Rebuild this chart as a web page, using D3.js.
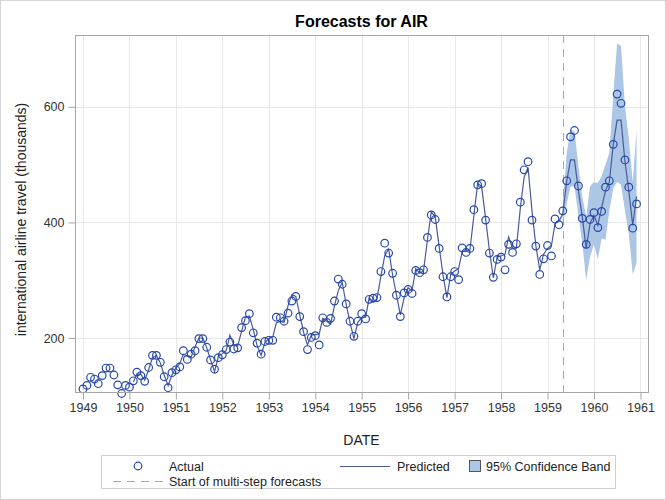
<!DOCTYPE html>
<html>
<head>
<meta charset="utf-8">
<script src="https://cdn.jsdelivr.net/npm/d3@7"></script>
<style>
  body { margin: 0; background: #fff; }
  svg { display: block; font-family: "Liberation Sans", Arial, sans-serif; }
</style>
</head>
<body>
<svg id="chart" width="666" height="500"></svg>
<script>
// monthly series, January 1949 .. December 1960
var startYear = 1949
var actual = [
  112, 118, 132, 129, 121, 135, 148, 148, 136, 119, 104, 118,
  115, 126, 141, 135, 125, 149, 170, 170, 158, 133, 114, 140,
  145, 150, 178, 163, 172, 178, 199, 199, 184, 162, 146, 166,
  171, 180, 193, 181, 183, 218, 230, 242, 209, 191, 172, 194,
  196, 196, 236, 235, 229, 243, 264, 272, 237, 211, 180, 201,
  204, 188, 235, 227, 234, 264, 302, 293, 259, 229, 203, 229,
  242, 233, 267, 269, 270, 315, 364, 347, 312, 274, 237, 278,
  284, 277, 317, 313, 318, 374, 413, 405, 355, 306, 271, 306,
  315, 301, 356, 348, 355, 422, 465, 467, 404, 347, 305, 336,
  340, 318, 362, 348, 363, 435, 491, 505, 404, 359, 310, 337,
  360, 342, 406, 396, 420, 472, 548, 559, 463, 407, 362, 405,
  417, 391, 419, 461, 472, 535, 622, 606, 508, 461, 390, 432
]
var predicted = [
  null, null, null, null, null, null, null, null, null, null, null, null,
  null, 124, 138, 137, 127, 145, 166, 170, 157, 136, 118, 136,
  148, 156, 172, 169, 167, 185, 200, 200, 183, 162, 142, 168,
  173, 178, 205, 188, 186, 212, 236, 238, 214, 187, 170, 192,
  199, 202, 226, 229, 227, 256, 275, 272, 240, 210, 188, 205,
  206, 207, 234, 229, 224, 256, 282, 296, 258, 227, 199, 227,
  235, 236, 270, 262, 268, 307, 342, 354, 309, 275, 240, 270,
  287, 282, 320, 312, 316, 370, 418, 410, 358, 310, 270, 310,
  316, 320, 350, 350, 352, 412, 468, 462, 407, 352, 304, 340,
  342, 345, 375, 356, 355, 424, 478, 495, 420, 360, 318, 345,
  355, 360, 398, 402, 415, 472, 508, 508, 455, 410, 355, 398,
  412, 395, 425, 455, 470, 535, 577, 577, 505, 455, 395, 445
]
// 95% band, May 1959 .. December 1960
var bandStart = 124
var upper = [432, 520, 560, 558, 497, 445, 410, 462, 470, 468, 480, 500, 520, 620, 710, 705, 600, 545, 470, 560]
var lower = [398, 432, 462, 462, 412, 364, 300, 340, 362, 336, 372, 370, 420, 460, 470, 465, 420, 380, 310, 330]
var forecastStart = 124
var yTicks = [200, 400, 600]
var xTicks = d3.range(1949, 1962)

var svg = d3.select('#chart')
var frame = { left: 75, right: 648, top: 35, bottom: 392 }

function dateOf(i) { return new Date(startYear, i, 1) }

var x = d3.scaleTime()
  .domain([new Date(1948, 9, 30), new Date(1961, 1, 29)])
  .range([frame.left, frame.right])
var y = d3.scaleLinear()
  .domain([106.6, 724.2])
  .range([frame.bottom, frame.top])

// outer border
svg.append('rect')
  .attr('x', 0.5).attr('y', 0.5).attr('width', 665).attr('height', 499)
  .attr('fill', '#fff').attr('stroke', '#d4d4d4')

// title
svg.append('text')
  .attr('x', (frame.left + frame.right) / 2).attr('y', 27)
  .attr('text-anchor', 'middle')
  .attr('font-size', 16).attr('font-weight', 'bold')
  .text('Forecasts for AIR')

// grid
var grid = svg.append('g').attr('stroke', '#e8e8e8').attr('stroke-width', 1)
xTicks.forEach(function (t) {
  var px = Math.round(x(new Date(t, 0, 1))) + 0.5
  grid.append('line').attr('x1', px).attr('x2', px).attr('y1', frame.top).attr('y2', frame.bottom)
})
yTicks.forEach(function (t) {
  var py = Math.round(y(t)) + 0.5
  grid.append('line').attr('x1', frame.left).attr('x2', frame.right).attr('y1', py).attr('y2', py)
})

// confidence band
var bandData = upper.map(function (u, k) {
  return { d: dateOf(bandStart + k), u: u, l: lower[k] }
})
svg.append('path')
  .datum(bandData)
  .attr('fill', '#acc6e6')
  .attr('d', d3.area()
    .x(function (d) { return x(d.d) })
    .y0(function (d) { return y(d.l) })
    .y1(function (d) { return y(d.u) }))

// start of multi-step forecasts
var fx = Math.round(x(dateOf(forecastStart))) + 0.5
svg.append('line')
  .attr('x1', fx).attr('x2', fx).attr('y1', frame.top).attr('y2', frame.bottom)
  .attr('stroke', '#a8a8a8').attr('stroke-dasharray', '8,6')

// predicted line
var predData = predicted.map(function (p, i) { return { d: dateOf(i), p: p } })
svg.append('path')
  .datum(predData)
  .attr('fill', 'none')
  .attr('stroke', '#4b5a9c')
  .attr('stroke-width', 1.2)
  .attr('d', d3.line()
    .defined(function (d) { return d.p != null })
    .x(function (d) { return x(d.d) })
    .y(function (d) { return y(d.p) }))

// actual markers
svg.append('g').selectAll('circle')
  .data(actual)
  .enter().append('circle')
  .attr('cx', function (v, i) { return x(dateOf(i)) })
  .attr('cy', function (v) { return y(v) })
  .attr('r', 3.8)
  .attr('fill', 'none')
  .attr('stroke', '#2648aa')
  .attr('stroke-width', 1.2)

// frame
svg.append('rect')
  .attr('x', frame.left + 0.5).attr('y', frame.top + 0.5)
  .attr('width', frame.right - frame.left).attr('height', frame.bottom - frame.top)
  .attr('fill', 'none').attr('stroke', '#a6a6a6')

// axes
var xAxis = d3.axisBottom(x)
  .tickValues(xTicks.map(function (t) { return new Date(t, 0, 1) }))
  .tickFormat(d3.timeFormat('%Y'))
  .tickSizeOuter(0).tickSize(7).tickPadding(4)
var gx = svg.append('g')
  .attr('transform', 'translate(0,' + (frame.bottom + 0.5) + ')')
  .call(xAxis)
var yAxis = d3.axisLeft(y)
  .tickValues(yTicks)
  .tickSizeOuter(0).tickSize(7).tickPadding(4)
var gy = svg.append('g')
  .attr('transform', 'translate(' + (frame.left + 0.5) + ',0)')
  .call(yAxis)
;[gx, gy].forEach(function (g) {
  g.select('.domain').remove()
  g.selectAll('line').attr('stroke', '#a6a6a6')
  g.selectAll('text').attr('fill', '#333').attr('font-size', 12.5)
    .attr('font-family', '"Liberation Sans", Arial, sans-serif')
})

// axis labels
svg.append('text')
  .attr('x', (frame.left + frame.right) / 2).attr('y', 445)
  .attr('text-anchor', 'middle').attr('font-size', 14).attr('fill', '#222')
  .text('DATE')
svg.append('text')
  .attr('transform', 'translate(26,' + ((frame.top + frame.bottom) / 2 + 6) + ') rotate(-90)')
  .attr('text-anchor', 'middle').attr('font-size', 14).attr('fill', '#222')
  .text('international airline travel (thousands)')

// legend
var lg = svg.append('g')
lg.append('rect')
  .attr('x', 101.5).attr('y', 455.5).attr('width', 514).attr('height', 33)
  .attr('fill', '#fff').attr('stroke', '#cfcfcf')
var row1 = 466, row2 = 481
lg.append('circle').attr('cx', 138).attr('cy', row1).attr('r', 3.8)
  .attr('fill', 'none').attr('stroke', '#2648aa').attr('stroke-width', 1.2)
lg.append('line').attr('x1', 340).attr('x2', 390).attr('y1', row1 + 0.5).attr('y2', row1 + 0.5)
  .attr('stroke', '#4b5a9c').attr('stroke-width', 1.2)
lg.append('rect').attr('x', 469.5).attr('y', row1 - 5.5).attr('width', 11).attr('height', 11)
  .attr('fill', '#acc6e6').attr('stroke', '#555')
lg.append('line').attr('x1', 113).attr('x2', 163).attr('y1', row2 + 0.5).attr('y2', row2 + 0.5)
  .attr('stroke', '#a8a8a8').attr('stroke-dasharray', '8,6')
var legendText = [
  { x: 169, y: row1, t: 'Actual' },
  { x: 397, y: row1, t: 'Predicted' },
  { x: 486, y: row1, t: '95% Confidence Band' },
  { x: 169, y: row2, t: 'Start of multi-step forecasts' }
]
lg.selectAll('text.lt')
  .data(legendText)
  .enter().append('text')
  .attr('class', 'lt')
  .attr('x', function (d) { return d.x })
  .attr('y', function (d) { return d.y + 4.5 })
  .attr('font-size', 12.5).attr('fill', '#222')
  .text(function (d) { return d.t })
</script>
</body>
</html>
